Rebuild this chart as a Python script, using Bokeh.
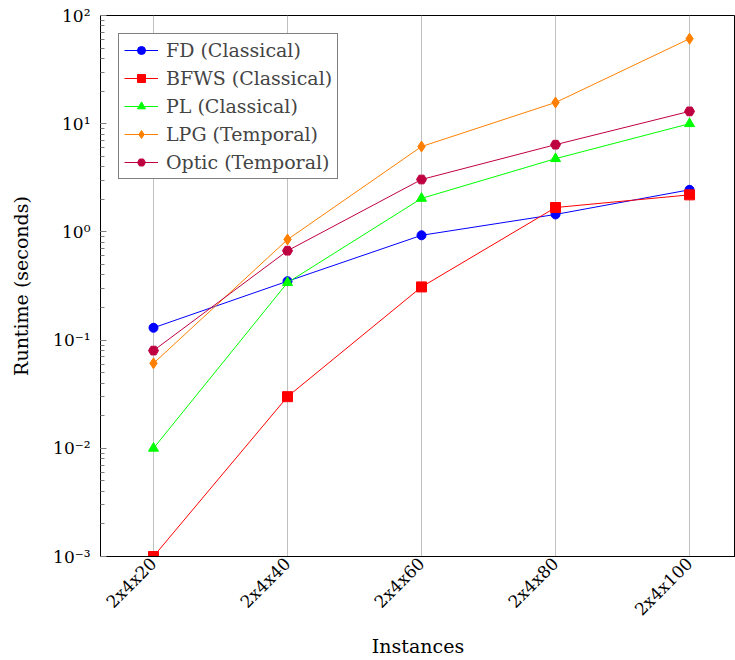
from bokeh.plotting import figure
from bokeh.models import Range1d, LogTicker, CustomJSTickFormatter, FixedTicker, Legend, LegendItem
from bokeh.embed import file_html
from bokeh.resources import INLINE
import math

instances = ["2x4x20", "2x4x40", "2x4x60", "2x4x80", "2x4x100"]
fd = [0.13, 0.35, 0.93, 1.45, 2.45]
bfws = [0.001, 0.030, 0.31, 1.68, 2.2]
pl = [0.010, 0.34, 2.04, 4.75, 10.0]
lpg = [0.061, 0.85, 6.15, 15.7, 61.0]
optic = [0.080, 0.67, 3.05, 6.4, 13.0]

FONT = "DejaVu Serif"
xs = list(range(len(instances)))

p = figure(width=735, height=660, output_backend="svg", toolbar_location=None,
           y_axis_type="log", x_range=Range1d(-0.3955, 4.343), y_range=Range1d(1e-3, 1e2),
           min_border_left=100, min_border_top=15, min_border_bottom=104, min_border_right=0)

p.outline_line_color = "black"
p.outline_line_width = 1
p.background_fill_color = "white"
p.border_fill_color = "white"

# grid
p.ygrid.grid_line_color = None
p.xgrid.grid_line_color = "#c0c0c0"
p.xgrid.grid_line_width = 1
p.xgrid.ticker = FixedTicker(ticks=xs)

# x axis
p.xaxis.ticker = FixedTicker(ticks=xs)
p.xaxis.major_label_overrides = {i: s for i, s in enumerate(instances)}
p.xaxis.major_label_orientation = math.pi / 4
p.xaxis.major_tick_in = 0
p.xaxis.major_tick_out = 0
p.xaxis.minor_tick_line_color = None
p.xaxis.axis_label = "Instances"
p.xaxis.axis_line_color = "black"

# y axis
p.yaxis.ticker = LogTicker(desired_num_ticks=6, num_minor_ticks=10)
p.yaxis.formatter = CustomJSTickFormatter(code="""
const e = Math.round(Math.log10(tick));
const sup = {"-":"\u207b","0":"\u2070","1":"\u00b9","2":"\u00b2","3":"\u00b3","4":"\u2074","5":"\u2075","6":"\u2076","7":"\u2077","8":"\u2078","9":"\u2079"};
return "10" + String(e).split("").map(c => sup[c]).join("");
""")
p.yaxis.major_tick_in = 6
p.yaxis.major_tick_out = 0
p.yaxis.minor_tick_in = 4
p.yaxis.minor_tick_out = 0
p.yaxis.major_tick_line_color = "#808080"
p.yaxis.minor_tick_line_color = "#808080"
p.yaxis.axis_label = "Runtime (seconds)"
p.yaxis.axis_line_color = "black"

for ax in (p.xaxis, p.yaxis):
    ax.major_label_text_font = FONT
    ax.major_label_text_font_size = "17px"
    ax.major_label_text_color = "black"
    ax.axis_label_text_font = FONT
    ax.axis_label_text_font_size = "19px"
    ax.axis_label_text_font_style = "normal"
    ax.axis_label_text_color = "black"
p.yaxis.major_label_standoff = 10
p.xaxis.major_label_standoff = 4
p.xaxis.axis_label_standoff = 6
p.yaxis.axis_label_standoff = 18

series = [
    ("FD (Classical)", fd, "#0000ff", "circle", 9),
    ("BFWS (Classical)", bfws, "#ff0000", "square", 10),
    ("PL (Classical)", pl, "#00ff00", "triangle", 10),
    ("LPG (Temporal)", lpg, "#ff8000", "diamond", 11),
    ("Optic (Temporal)", optic, "#bf0040", "hex", 10),
]

items = []
for label, ys, color, marker, size in series:
    l = p.line(xs, ys, line_color=color, line_width=1)
    s = p.scatter(xs, ys, marker=marker, size=size, fill_color=color, line_color=color)
    items.append(LegendItem(label=label, renderers=[l, s]))

legend = Legend(items=items, location="top_left")
legend.margin = 18
legend.label_text_font = FONT
legend.label_text_font_size = "19px"
legend.border_line_color = "black"
legend.border_line_width = 1
legend.background_fill_alpha = 1
legend.glyph_width = 34
legend.glyph_height = 20
legend.label_height = 20
legend.spacing = 6
legend.padding = 5
legend.label_standoff = 8
p.add_layout(legend, "center")

open("out.html", "w").write(file_html(p, INLINE))
